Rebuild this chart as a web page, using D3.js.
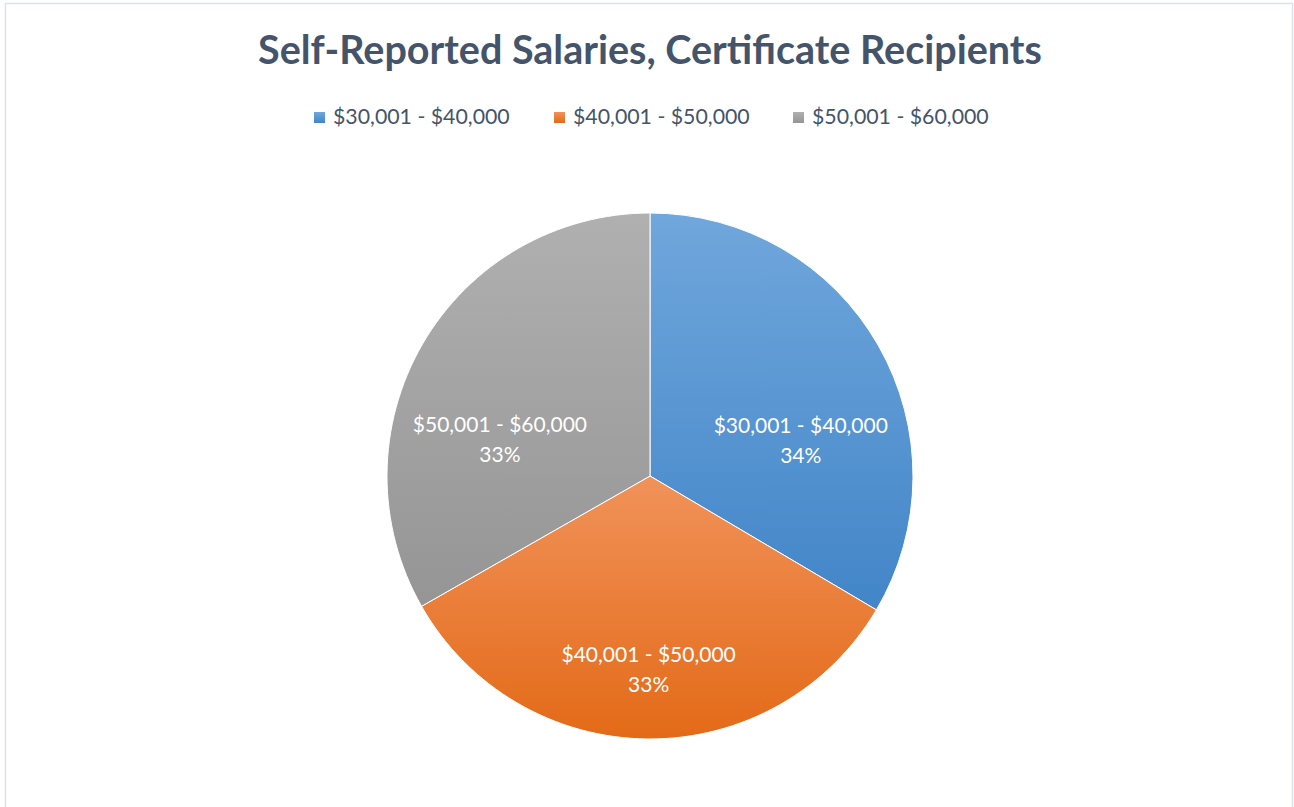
<!DOCTYPE html>
<html>
<head>
<meta charset="utf-8">
<script src="https://cdn.jsdelivr.net/npm/d3@7"></script>
<style>
  body { margin: 0; background: #fff; }
  svg { display: block; }
</style>
</head>
<body>
<svg id="chart" width="1294" height="807"></svg>
<script>
// data
var CATEGORIES = ["$30,001 - $40,000", "$40,001 - $50,000", "$50,001 - $60,000"];
var VALUES = [33.5, 33.25, 33.25];
var TITLE = "Self-Reported Salaries, Certificate Recipients";
// light (top) / dark (bottom) shade per slice
var TOP_COLORS = ["#70a7dc", "#f1925a", "#b0b0b0"];
var BOTTOM_COLORS = ["#4285c8", "#e36a17", "#959595"];

var W = 1294, H = 807;
var CX = 650, CY = 476, R = 263;
var FONT = "Lato, 'Open Sans', sans-serif";

var svg = d3.select("#chart");

// chart area border
svg.append("rect")
    .attr("x", 5.5).attr("y", 3.5)
    .attr("width", W - 7).attr("height", H)
    .style("fill", "#fff")
    .style("stroke", "#dde1e8")
    .style("stroke-width", 1.5);

// title
svg.append("text")
    .attr("x", CX).attr("y", 64)
    .attr("text-anchor", "middle")
    .style("font-family", FONT)
    .style("font-weight", "bold")
    .style("font-size", "39.5px")
    .style("fill", "#44546a")
    .text(TITLE);

// gradients
var defs = svg.append("defs");
CATEGORIES.forEach(function (c, i) {
    var g = defs.append("linearGradient")
        .attr("id", "grad" + i)
        .attr("x1", 0).attr("y1", 0).attr("x2", 0).attr("y2", 1);
    g.append("stop").attr("offset", "0%").attr("stop-color", TOP_COLORS[i]);
    g.append("stop").attr("offset", "100%").attr("stop-color", BOTTOM_COLORS[i]);
});

// legend
var legendX = [314, 554, 793];
var legend = svg.append("g");
CATEGORIES.forEach(function (c, i) {
    var item = legend.append("g").attr("transform", "translate(" + legendX[i] + ",112)");
    item.append("rect")
        .attr("width", 11).attr("height", 11)
        .style("fill", "url(#grad" + i + ")");
    item.append("text")
        .attr("x", 19).attr("y", 12)
        .style("font-family", FONT)
        .style("font-size", "21.3px")
        .style("fill", "#44546a")
        .text(c);
});

// pie
var pie = d3.pie().sort(null).value(function (d) { return d; });
var arcs = pie(VALUES);
var total = d3.sum(VALUES);
var arc = d3.arc().innerRadius(0).outerRadius(R);
var labelArc = d3.arc().innerRadius(R * 0.66).outerRadius(R * 0.66);

var g = svg.append("g").attr("transform", "translate(" + CX + "," + CY + ")");

g.selectAll("path.slice")
    .data(arcs)
    .enter().append("path")
    .attr("class", "slice")
    .attr("d", arc)
    .style("fill", function (d, i) { return "url(#grad" + i + ")"; })
    .style("stroke", "#fff")
    .style("stroke-width", 1);

var labels = g.selectAll("text.lbl")
    .data(arcs)
    .enter().append("text")
    .attr("class", "lbl")
    .attr("text-anchor", "middle")
    .attr("transform", function (d) {
        var c = labelArc.centroid(d);
        var mid = (d.startAngle + d.endAngle) / 2;
        // label box is pushed down, more so on the side slices
        var dy = 20 + 36 * Math.abs(Math.sin(mid));
        return "translate(" + c[0] + "," + (c[1] + dy) + ")";
    })
    .style("font-family", FONT)
    .style("font-size", "21px")
    .style("fill", "#fff");

labels.append("tspan")
    .attr("x", 0).attr("y", -8)
    .text(function (d, i) { return CATEGORIES[i]; });
labels.append("tspan")
    .attr("x", 0).attr("y", 22)
    .text(function (d) { return Math.round(d.value / total * 100) + "%"; });
</script>
</body>
</html>
